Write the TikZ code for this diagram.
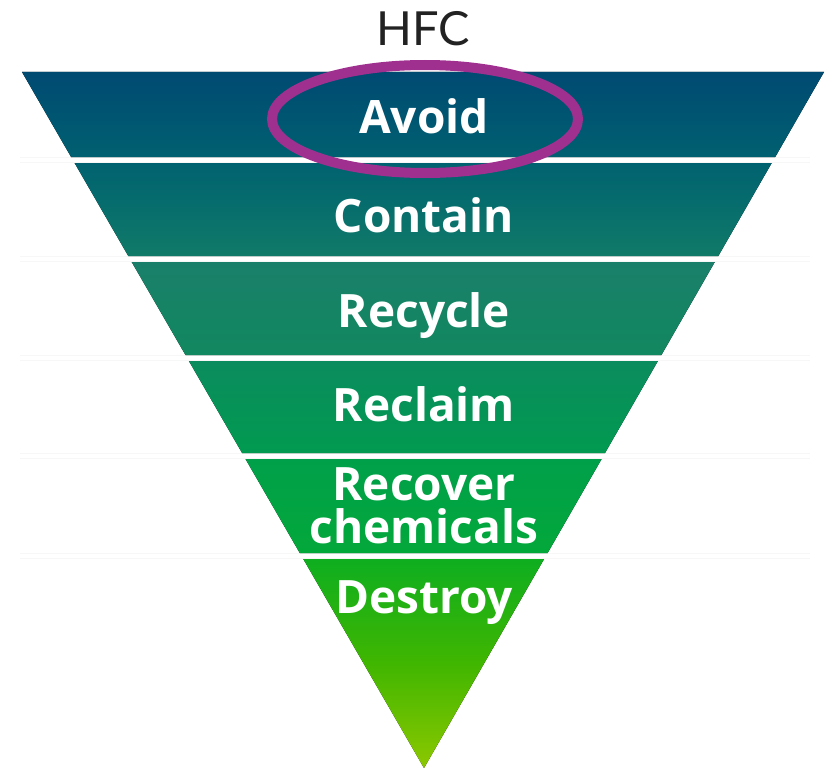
\documentclass[tikz,border=0pt]{standalone}
\usepackage{fontspec}
\setmainfont{Lato}
\newfontfamily\bandfont{Open Sans}
\definecolor{cA1}{HTML}{004A72}\definecolor{cA2}{HTML}{006070}
\definecolor{cB1}{HTML}{006270}\definecolor{cB2}{HTML}{107A68}
\definecolor{cC1}{HTML}{1A7F6A}\definecolor{cC2}{HTML}{11885F}
\definecolor{cD1}{HTML}{0B8C5E}\definecolor{cD2}{HTML}{019A50}
\definecolor{cE1}{HTML}{00A04A}\definecolor{cE2}{HTML}{03A83A}
\definecolor{cF1}{HTML}{0EAE20}\definecolor{cF2}{HTML}{8CC800}\definecolor{cFm}{HTML}{40B600}
\definecolor{ring}{HTML}{A0308F}
\definecolor{ink}{HTML}{222222}
\begin{document}
\begin{tikzpicture}[x=1pt,y=-1pt,
  label/.style={text=white,font=\bandfont\fontsize{46}{43}\selectfont\bfseries,align=center,inner sep=0pt,anchor=base},
  gapline/.style={fill=black!3},
  gapwhite/.style={fill=white}]
\useasboundingbox (0,0) rectangle (835,768);
% faint separator stripes
\foreach \y in {157,256,355,453,553}{
  \fill[gapline] (20,\y) rectangle (810,\y+6);
  \fill[gapwhite] (20,\y+1) rectangle (810,\y+5);
}
% bands
\fill[top color=cA1,bottom color=cA2] (22,72) -- (824,72) -- (775.2,157) -- (71.1,157) -- cycle;
\fill[top color=cB1,bottom color=cB2] (74.6,163) -- (771.7,163) -- (718.3,256) -- (128.3,256) -- cycle;
\fill[top color=cC1,bottom color=cC2] (131.7,262) -- (714.8,262) -- (661.4,355) -- (185.5,355) -- cycle;
\fill[top color=cD1,bottom color=cD2] (188.9,361) -- (657.9,361) -- (605.0,453) -- (242.1,453) -- cycle;
\fill[top color=cE1,bottom color=cE2] (245.5,459) -- (601.6,459) -- (547.6,553) -- (299.8,553) -- cycle;
\fill[top color=cF1,bottom color=cF2,middle color=cFm] (303.3,559) -- (544.1,559) -- (424,768) -- cycle;
% labels
\node[label] (avoid) at (424,133) {Avoid};
\node[label] (contain) at (424,232) {Contain};
\node[label] (recycle) at (424,327) {Recycle};
\node[label] (reclaim) at (424,421) {Reclaim};
\node[label] (recover) at (424,543) {Recover\\chemicals};
\node[label] (destroy) at (424,613) {Destroy};
\node[text=ink,font=\fontsize{47}{47}\selectfont,inner sep=0pt,anchor=base] (hfc) at (423,46) {HFC};
% highlight ring
\draw[ring,line width=10pt] (425,119) ellipse [x radius=153,y radius=54];
\end{tikzpicture}
\end{document}
